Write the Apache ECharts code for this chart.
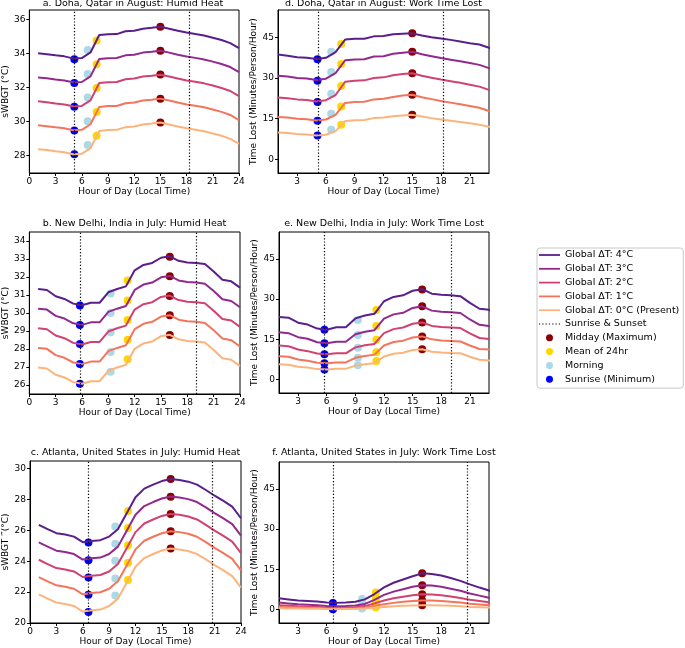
<!DOCTYPE html>
<html><head><meta charset="utf-8">
<script src="https://cdn.jsdelivr.net/npm/echarts@6/dist/echarts.min.js"></script>
<style>html,body{margin:0;padding:0;background:#fff}#c{width:685px;height:648px}</style>
</head><body><div id="c"></div>
<script>
// ---------- DATA ----------
const hours = [1,2,3,4,5,6,7,8,9,10,11,12,13,14,15,16,17,18,19,20,21,22,23,24];
const scenarioNames = ['Global ΔT: 4°C','Global ΔT: 3°C','Global ΔT: 2°C','Global ΔT: 1°C','Global ΔT: 0°C (Present)'];
const markerNames = ['Sunrise (Minimum)','Morning','Mean of 24hr','Midday (Maximum)'];
const sunLineName = 'Sunrise & Sunset';

// a. Doha humid heat (sWBGT °C), rows: 4°C,3°C,2°C,1°C,0°C
const dohaHeat = [
  [34.00,33.95,33.88,33.82,33.70,33.72,34.05,35.08,35.12,35.13,35.30,35.33,35.45,35.50,35.56,35.45,35.33,35.22,35.14,35.05,34.92,34.78,34.60,34.30],
  [32.58,32.53,32.46,32.40,32.29,32.31,32.64,33.66,33.71,33.72,33.88,33.92,34.04,34.09,34.15,34.04,33.92,33.81,33.73,33.64,33.51,33.37,33.19,32.89],
  [31.17,31.12,31.05,30.99,30.88,30.90,31.23,32.25,32.30,32.31,32.47,32.51,32.63,32.68,32.74,32.63,32.51,32.40,32.32,32.23,32.10,31.96,31.78,31.48],
  [29.76,29.71,29.64,29.58,29.47,29.49,29.82,30.84,30.89,30.90,31.06,31.10,31.22,31.27,31.33,31.22,31.10,30.99,30.91,30.82,30.69,30.55,30.37,30.07],
  [28.35,28.30,28.23,28.17,28.06,28.08,28.41,29.43,29.48,29.49,29.65,29.69,29.81,29.86,29.92,29.81,29.69,29.58,29.50,29.41,29.28,29.14,28.96,28.66]
];
const dohaHeatSunrise = [33.65,32.25,30.85,29.45,28.05];
const dohaHeatMorning = [34.19,32.78,31.39,30.00,28.60];
const dohaHeatMean    = [34.76,33.35,31.96,30.55,29.15];
const dohaHeatMidday  = [35.56,34.15,32.75,31.33,29.92];
const dohaHeatMarkerHours = [5.15,6.68,7.70,15.0];

// d. Doha work time lost (min/person/hour)
const dohaWork = [
  [38.6,38.2,37.6,37.4,37.0,37.4,39.5,44.1,44.4,44.4,45.3,45.4,46.1,46.3,46.4,45.6,45.0,44.5,44.0,43.4,42.8,42.3,41.1,39.8],
  [30.8,30.5,30.0,29.8,29.2,29.7,31.8,36.5,36.8,36.9,37.9,38.0,38.9,39.3,39.6,38.7,38.0,37.3,36.7,36.1,35.5,34.8,33.6,32.3],
  [22.8,22.5,22.1,21.9,21.3,21.8,23.7,28.6,29.0,29.1,30.0,30.2,31.0,31.4,31.7,30.8,30.1,29.4,28.8,28.2,27.5,26.8,25.6,24.4],
  [15.6,15.4,15.0,14.8,14.3,14.7,16.4,20.8,21.1,21.2,22.1,22.3,23.0,23.5,23.8,22.9,22.2,21.5,20.9,20.3,19.7,19.0,17.8,16.6],
  [9.9,9.7,9.4,9.2,8.8,9.1,10.4,14.1,14.4,14.5,15.2,15.4,15.9,16.2,16.4,15.8,15.2,14.7,14.2,13.8,13.3,12.8,12.0,11.2]
];
const dohaWorkSunrise = [36.9,29.0,21.1,14.2,8.8];
const dohaWorkMorning = [39.6,32.2,24.2,16.8,10.9];
const dohaWorkMean    = [42.5,35.1,27.0,19.5,12.8];
const dohaWorkMidday  = [46.4,39.6,31.7,23.8,16.4];
const dohaWorkMarkerHours = [5.12,6.55,7.59,15.0];
const dohaSun = [5.15,18.25];

// b. New Delhi humid heat
const delhiHeat = [
  [31.33,31.28,30.93,30.78,30.52,30.43,30.57,30.57,31.15,31.33,31.48,32.37,32.67,32.78,33.07,33.15,32.90,32.81,32.78,32.72,32.31,31.85,31.76,31.41],
  [30.24,30.19,29.84,29.69,29.43,29.34,29.48,29.48,30.06,30.24,30.39,31.28,31.58,31.69,31.98,32.06,31.81,31.72,31.69,31.63,31.22,30.76,30.67,30.32],
  [29.15,29.10,28.75,28.60,28.34,28.25,28.39,28.39,28.97,29.15,29.30,30.19,30.49,30.60,30.89,30.97,30.72,30.63,30.60,30.54,30.13,29.67,29.58,29.23],
  [28.06,28.01,27.66,27.51,27.25,27.16,27.30,27.30,27.88,28.06,28.21,29.10,29.40,29.51,29.80,29.88,29.63,29.54,29.51,29.45,29.04,28.58,28.49,28.14],
  [26.97,26.92,26.57,26.42,26.16,26.07,26.21,26.21,26.79,26.97,27.12,28.01,28.31,28.42,28.71,28.79,28.54,28.45,28.42,28.36,27.95,27.49,27.40,27.05]
];
const delhiHeatSunrise = [30.41,29.33,28.28,27.17,26.07];
const delhiHeatMorning = [31.09,30.00,28.93,27.83,26.74];
const delhiHeatMean    = [31.80,30.69,29.61,28.52,27.43];
const delhiHeatMidday  = [33.13,32.04,30.94,29.87,28.78];
const delhiMarkerHours = [5.76,9.26,11.2,16.0];

// e. New Delhi work time lost
const delhiWork = [
  [23.3,23.05,21.2,20.5,19.0,18.6,19.5,19.5,22.8,23.9,24.5,29.2,30.8,31.4,33.1,33.7,32.0,31.6,31.4,31.1,28.6,26.4,26.0,24.0],
  [17.6,17.3,15.8,15.2,13.9,13.5,14.1,14.1,16.9,17.8,18.4,22.7,24.3,24.9,26.7,27.3,25.7,25.3,25.1,24.8,22.4,20.4,20.0,18.3],
  [12.7,12.4,11.2,10.6,9.7,9.4,9.8,9.8,12.0,12.8,13.3,17.3,18.8,19.4,20.8,21.3,20.0,19.6,19.4,19.2,17.2,15.5,15.1,13.6],
  [8.7,8.5,7.5,7.0,6.3,6.1,6.4,6.4,8.1,8.8,9.3,12.7,14.0,14.5,15.7,16.1,15.0,14.6,14.4,14.2,12.7,11.4,11.2,9.9],
  [5.7,5.5,4.8,4.5,3.9,3.8,4.0,4.0,5.2,5.7,6.1,8.6,9.6,10.0,11.0,11.3,10.4,10.1,9.9,9.8,8.5,7.4,7.1,6.2]
];
const delhiWorkSunrise = [18.6,13.5,9.4,6.1,3.8];
const delhiWorkMorning = [22.2,16.6,11.9,8.1,5.3];
const delhiWorkMean    = [25.9,20.0,14.8,10.2,6.9];
const delhiWorkMidday  = [33.6,27.3,21.3,16.1,11.3];
const delhiSun = [5.76,19.05];

// c. Atlanta humid heat
const atlantaHeat = [
  [26.36,26.08,25.82,25.73,25.60,25.24,25.32,25.37,25.60,26.08,27.11,28.15,28.71,28.97,29.20,29.33,29.27,29.16,28.97,28.62,28.25,27.91,27.54,26.79],
  [25.23,24.95,24.69,24.60,24.47,24.11,24.19,24.24,24.47,24.95,25.98,27.02,27.58,27.84,28.07,28.20,28.14,28.03,27.84,27.49,27.12,26.78,26.41,25.66],
  [24.10,23.82,23.56,23.47,23.34,22.98,23.06,23.11,23.34,23.82,24.85,25.89,26.45,26.71,26.94,27.07,27.01,26.90,26.71,26.36,25.99,25.65,25.28,24.53],
  [22.98,22.70,22.44,22.35,22.22,21.86,21.94,21.99,22.22,22.70,23.73,24.77,25.33,25.59,25.82,25.95,25.89,25.78,25.59,25.24,24.87,24.53,24.16,23.41],
  [21.86,21.58,21.32,21.23,21.10,20.74,20.82,20.87,21.10,21.58,22.61,23.65,24.21,24.47,24.70,24.83,24.77,24.66,24.47,24.12,23.75,23.41,23.04,22.29]
];
const atlantaHeatSunrise = [25.22,24.07,22.95,21.83,20.71];
const atlantaHeatMorning = [26.25,25.13,24.03,22.89,21.79];
const atlantaHeatMean    = [27.26,26.16,25.04,23.90,22.78];
const atlantaHeatMidday  = [29.33,28.19,27.07,25.95,24.83];
const atlantaMarkerHours = [6.65,9.7,11.15,16.0];

// f. Atlanta work time lost
const atlantaWork = [
  [4.2,3.8,3.4,3.2,3.0,2.6,2.5,2.6,2.9,3.8,5.8,8.3,10.0,11.2,12.4,13.5,13.3,12.7,11.8,10.7,9.4,8.2,7.1,6.0],
  [2.6,2.3,2.0,1.8,1.6,1.3,1.2,1.3,1.5,2.1,3.6,5.5,6.7,7.6,8.5,9.1,9.0,8.5,7.8,7.0,6.0,5.2,4.4,3.7],
  [1.6,1.4,1.2,1.1,1.0,0.7,0.6,0.7,0.9,1.3,2.3,3.4,4.2,4.8,5.3,5.7,5.6,5.3,4.9,4.3,3.7,3.2,2.7,2.2],
  [1.0,0.9,0.8,0.7,0.6,0.4,0.3,0.4,0.5,0.8,1.4,2.0,2.5,2.9,3.2,3.4,3.4,3.2,2.9,2.6,2.2,1.9,1.6,1.3],
  [0.5,0.45,0.4,0.35,0.3,0.2,0.15,0.2,0.25,0.4,0.7,1.0,1.2,1.4,1.5,1.6,1.6,1.5,1.4,1.2,1.0,0.9,0.8,0.6]
];
const atlantaWorkSunrise = [2.5,1.2,0.6,0.3,0.15];
const atlantaWorkMorning = [3.9,2.6,1.6,0.9,0.4];
const atlantaWorkMean    = [6.4,4.4,2.9,1.7,0.8];
const atlantaWorkMidday  = [13.5,9.1,5.7,3.4,1.6];
const atlantaSun = [6.65,20.7];

// tick labels
const heatXTicks = [0,3,6,9,12,15,18,21,24];
const workXTicks = [3,6,9,12,15,18,21];
const dohaHeatYTicks = [28,30,32,34,36];
const delhiHeatYTicks = [26,27,28,29,30,31,32,33,34];
const atlantaHeatYTicks = [20,22,24,26,28,30];
const workYTicks = [0,15,30,45];

// ---------- STYLE ----------
const FONT = 'DejaVu Sans';
const lineColors = ['#5a1f8c','#922a8d','#d0426f','#f5745c','#fdb47c'];
const markerColors = ['#0000ff','#add8e6','#ffd700','#8b0000'];
const solidIcon = 'path://M0,0L21,0L21,1.8L0,1.8Z';
const dottedIcon = 'path://M0,0h1.2v1.2h-1.2zM3.3,0h1.2v1.2h-1.2zM6.6,0h1.2v1.2h-1.2zM9.9,0h1.2v1.2h-1.2zM13.2,0h1.2v1.2h-1.2zM16.5,0h1.2v1.2h-1.2zM19.8,0h1.2v1.2h-1.2z';

const panels = [
  {grid:{left:27,top:10,width:212,height:163}, title:'a. Doha, Qatar in August: Humid Heat', tTop:-1,
   lines:dohaHeat, marks:[dohaHeatSunrise,dohaHeatMorning,dohaHeatMean,dohaHeatMidday], mh:dohaHeatMarkerHours, sun:dohaSun,
   xmin:0,xmax:24,xt:heatXTicks, ymin:26.95,ymax:36.55,yt:dohaHeatYTicks, yName:'sWBGT (°C)', yGap:16},
  {grid:{left:29,top:232,width:211,height:162}, title:'b. New Delhi, India in July: Humid Heat', tTop:219,
   lines:delhiHeat, marks:[delhiHeatSunrise,delhiHeatMorning,delhiHeatMean,delhiHeatMidday], mh:delhiMarkerHours, sun:delhiSun,
   xmin:0,xmax:24,xt:heatXTicks, ymin:25.5,ymax:34.5,yt:delhiHeatYTicks, yName:'sWBGT (°C)', yGap:18},
  {grid:{left:30,top:461,width:211,height:162}, title:'c. Atlanta, United States in July: Humid Heat', tTop:448,
   lines:atlantaHeat, marks:[atlantaHeatSunrise,atlantaHeatMorning,atlantaHeatMean,atlantaHeatMidday], mh:atlantaMarkerHours, sun:atlantaSun,
   xmin:0,xmax:24,xt:heatXTicks, ymin:20,ymax:30.5,yt:atlantaHeatYTicks, yName:'sWBGT \u2034(°C)', yGap:19},
  {grid:{left:278,top:10,width:211,height:163}, title:'d. Doha, Qatar in August: Work Time Lost', tTop:-1,
   lines:dohaWork, marks:[dohaWorkSunrise,dohaWorkMorning,dohaWorkMean,dohaWorkMidday], mh:dohaWorkMarkerHours, sun:dohaSun,
   xmin:1,xmax:23,xt:workXTicks, ymin:-5,ymax:55,yt:workYTicks, yName:'Time Lost (Minutes/Person/Hour)', yGap:18},
  {grid:{left:279,top:232,width:210,height:161}, title:'e. New Delhi, India in July: Work Time Lost', tTop:219,
   lines:delhiWork, marks:[delhiWorkSunrise,delhiWorkMorning,delhiWorkMean,delhiWorkMidday], mh:delhiMarkerHours, sun:delhiSun,
   xmin:1,xmax:23,xt:workXTicks, ymin:-5,ymax:55,yt:workYTicks, yName:'Time Lost (Minutes/Person/Hour)', yGap:18},
  {grid:{left:279,top:462,width:210,height:161}, title:'f. Atlanta, United States in July: Work Time Lost', tTop:448,
   lines:atlantaWork, marks:[atlantaWorkSunrise,atlantaWorkMorning,atlantaWorkMean,atlantaWorkMidday], mh:atlantaMarkerHours, sun:atlantaSun,
   xmin:1,xmax:23,xt:workXTicks, ymin:-5,ymax:55,yt:workYTicks, yName:'Time Lost (Minutes/Person/Hour)', yGap:18}
];

const txt = {fontFamily:FONT, color:'#000'};
const legendData = scenarioNames.map(n=>({name:n, icon:solidIcon}))
  .concat([{name:sunLineName, icon:dottedIcon}])
  .concat(['Midday (Maximum)','Mean of 24hr','Morning','Sunrise (Minimum)'].map(n=>({name:n, icon:'circle'})));

const option = {
  animation:false,
  backgroundColor:'#fff',
  title: panels.map(p=>({text:p.title, left:p.grid.left+p.grid.width/2, top:p.tTop, textAlign:'center', padding:0,
    textStyle:Object.assign({fontSize:9.5, fontWeight:'normal'}, txt)})),
  grid: panels.map(p=>Object.assign({show:true, borderColor:'#000', borderWidth:1, backgroundColor:'transparent'}, p.grid)),
  xAxis: panels.map((p,i)=>({type:'value', gridIndex:i, min:p.xmin, max:p.xmax,
    name:'Hour of Day (Local Time)', nameLocation:'middle', nameGap:14, nameTextStyle:Object.assign({fontSize:9}, txt),
    axisLine:{show:true, onZero:false, lineStyle:{color:'#000', width:1}},
    axisTick:{show:true, length:3, customValues:p.xt, lineStyle:{color:'#000'}},
    axisLabel:Object.assign({customValues:p.xt, margin:4, fontSize:9}, txt),
    splitLine:{show:false}})),
  yAxis: panels.map((p,i)=>({type:'value', gridIndex:i, min:p.ymin, max:p.ymax,
    name:p.yName, nameLocation:'middle', nameGap:p.yGap, nameTextStyle:Object.assign({fontSize:9}, txt),
    axisLine:{show:true, onZero:false, lineStyle:{color:'#000', width:1}},
    axisTick:{show:true, length:3, customValues:p.yt, lineStyle:{color:'#000'}},
    axisLabel:Object.assign({customValues:p.yt, margin:4, fontSize:9}, txt),
    splitLine:{show:false}})),
  legend: {orient:'vertical', left:537, top:248, itemWidth:21, itemHeight:7, itemGap:3.8,
    padding:[2,4,4,2], backgroundColor:'#fff', borderColor:'#c8c8c8', borderWidth:1, borderRadius:3,
    selectedMode:false, textStyle:Object.assign({fontSize:9.5, lineHeight:9}, txt),
    data: legendData},
  series: []
};

panels.forEach((p,i)=>{
  // markers (drawn beneath lines)
  p.marks.forEach((vals,t)=>{
    option.series.push({type:'scatter', name:markerNames[t], xAxisIndex:i, yAxisIndex:i, z:2, silent:true,
      symbol:'circle', symbolSize:8, itemStyle:{color:markerColors[t], opacity:1},
      data: vals.map(v=>[p.mh[t], v])});
  });
  // scenario lines
  p.lines.forEach((vals,s)=>{
    option.series.push({type:'line', name:scenarioNames[s], xAxisIndex:i, yAxisIndex:i, z:3, silent:true,
      symbol:'none', showSymbol:false, clip:true, lineStyle:{width:2, color:lineColors[s]}, itemStyle:{color:lineColors[s]},
      data: hours.map((h,k)=>[h, vals[k]])});
  });
  // sunrise & sunset lines
  option.series.push({type:'line', name:sunLineName, xAxisIndex:i, yAxisIndex:i, z:4, silent:true,
    symbol:'none', data:[], lineStyle:{type:[1.2,2], color:'#000', width:1.2}, itemStyle:{color:'#000'},
    markLine:{silent:true, symbol:['none','none'], label:{show:false}, z:4,
      lineStyle:{type:[1.2,2], color:'#000', width:1.2}, emphasis:{disabled:true},
      data: p.sun.map(x=>({xAxis:x}))}});
});

const chart = echarts.init(document.getElementById('c'), null, {renderer:'canvas'});
chart.setOption(option);
</script>
</body></html>
